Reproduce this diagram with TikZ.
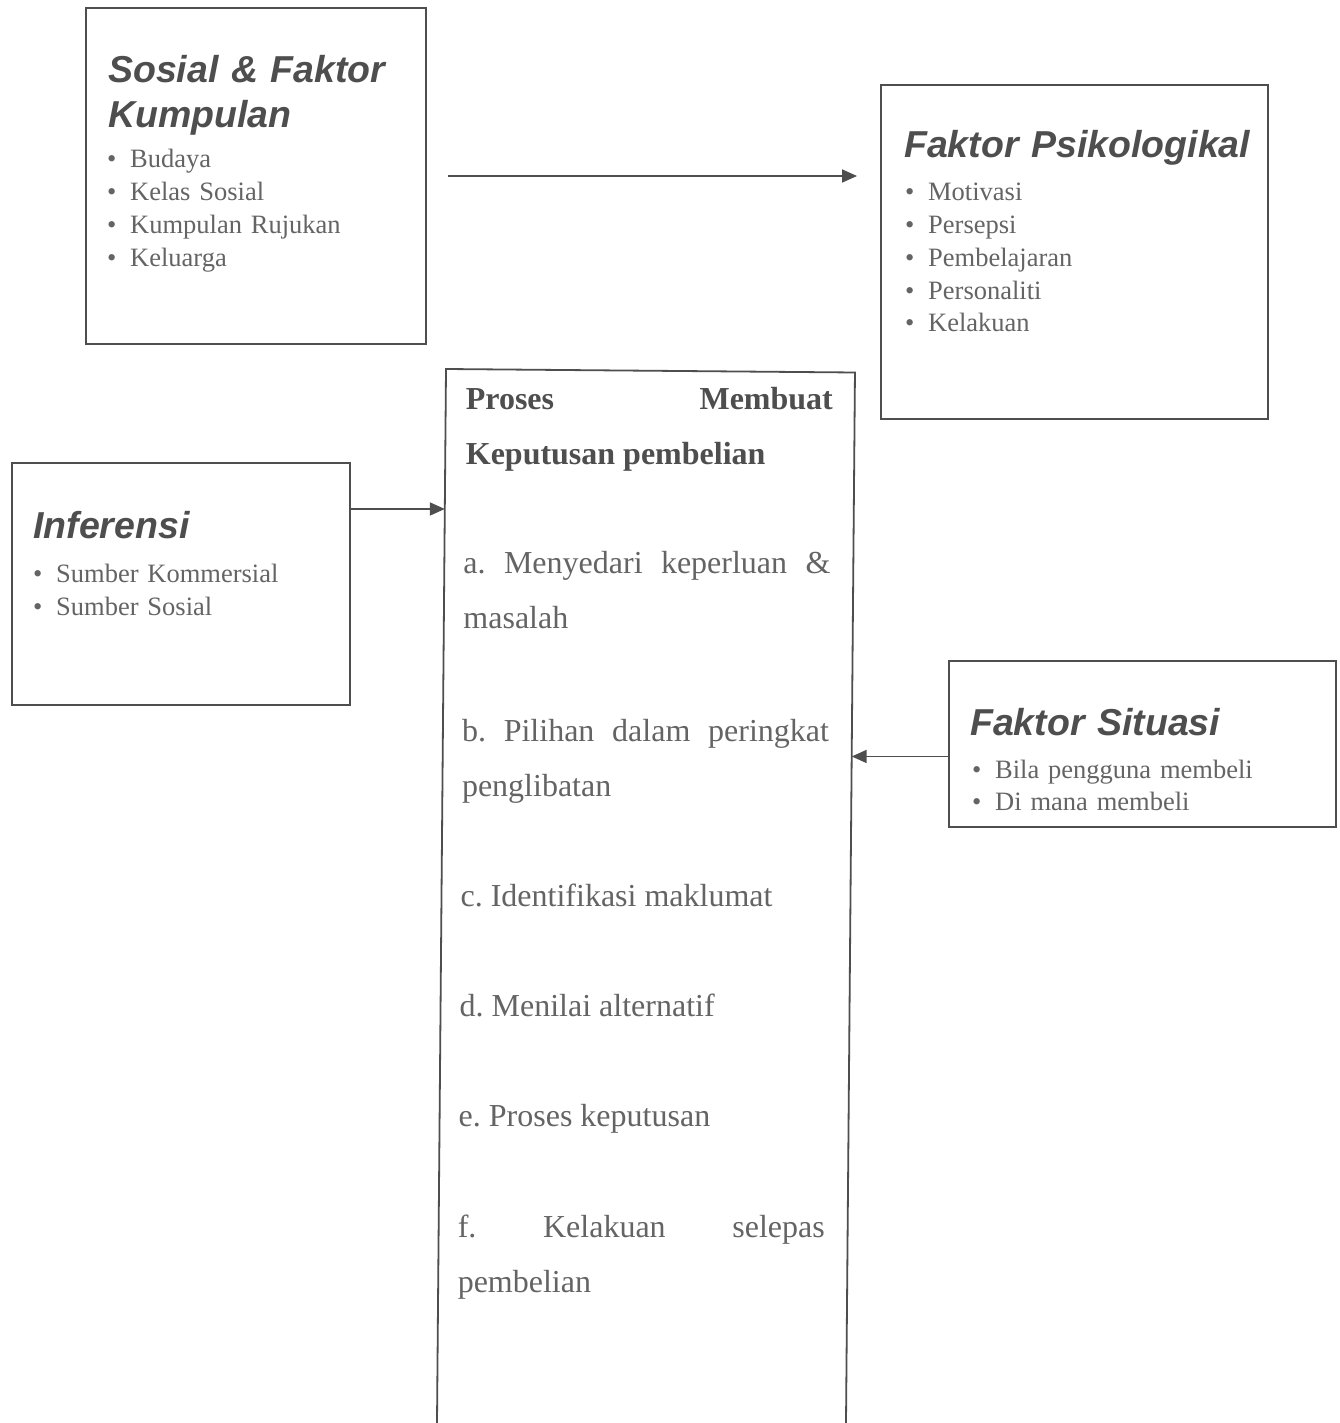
\documentclass[tikz,border=0pt]{standalone}
\usepackage{fontspec}
\setmainfont{Liberation Serif}
\setsansfont{Liberation Sans}
\usetikzlibrary{arrows.meta}
\definecolor{inkgray}{RGB}{78,78,78}
\definecolor{textgray}{RGB}{100,100,100}
\newcommand{\butir}{\makebox[23pt][l]{\textbullet}}
\tikzset{
  box/.style = {draw = inkgray, line width = 1.8pt, anchor = north west, inner sep = 0pt},
  head/.style = {anchor = base west, inner sep = 0pt, text width = 420pt, align = left,
    font = \sffamily\bfseries\itshape\fontsize{37.5}{45}\selectfont, text = inkgray},
  items/.style = {anchor = base west, inner sep = 0pt, text width = 330pt, align = left,
    font = \fontsize{26.5}{#1}\selectfont, text = textgray},
  steps/.style = {anchor = base west, inner sep = 0pt, text width = 367pt, align = justify,
    font = {\fontsize{32}{55.1}\selectfont\tolerance=10000\hyphenpenalty=10000\frenchspacing},
    text = textgray},
  link/.style = {draw = inkgray, line width = 1.8pt, -{Triangle[length = 15pt, width = 13pt]}}
}
\begin{document}
\begin{tikzpicture}[x = 1pt, y = -1pt]
\useasboundingbox[fill = white] (0, 0) rectangle (1340, 1423);
\node[box, minimum width = 340pt, minimum height = 336pt] (sosial) at (85, 7) {};
\node[box, minimum width = 387pt, minimum height = 334pt] (psiko) at (880, 84) {};
\node[box, minimum width = 338pt, minimum height = 242pt] (infer) at (11, 462) {};
\node[box, minimum width = 387pt, minimum height = 166pt] (situasi) at (948, 660) {};
\begin{scope}[rotate around = {-0.49:(446, 369)}]
\draw[draw = inkgray, line width = 1.8pt] (446, 1440) -- (446, 369) -- (855, 369) -- (855, 1440);
\coordinate (masukA) at (446, 509);
\coordinate (masukB) at (855, 753);
\node[steps, text = inkgray] (proses) at (466, 409) {\textbf{Proses Membuat Keputusan pembelian}\par};
\node[steps] (langkahA) at (465, 573) {a. Menyedari keperluan \& masalah\par};
\node[steps] (langkahB) at (465, 741) {b. Pilihan dalam peringkat penglibatan\par};
\node[steps] (langkahC) at (465, 906) {c. Identifikasi maklumat\par};
\node[steps] (langkahD) at (465, 1016) {d. Menilai alternatif\par};
\node[steps] (langkahE) at (465, 1126) {e. Proses keputusan\par};
\node[steps] (langkahF) at (465, 1237) {f. Kelakuan selepas pembelian\par};
\end{scope}
\node[head] (sosialT) at (108, 83) {Sosial \& Faktor\\Kumpulan};
\node[items = 33] (sosialL) at (107, 168) {\butir Budaya\\ \butir Kelas Sosial\\ \butir Kumpulan Rujukan\\ \butir Keluarga};
\node[head] (psikoT) at (904, 158) {Faktor Psikologikal};
\node[items = 32.7] (psikoL) at (905, 201) {\butir Motivasi\\ \butir Persepsi\\ \butir Pembelajaran\\ \butir Personaliti\\ \butir Kelakuan};
\node[head] (inferT) at (33, 538) {Inferensi};
\node[items = 33] (inferL) at (33, 582) {\butir Sumber Kommersial\\ \butir Sumber Sosial};
\node[head] (situasiT) at (970, 735) {Faktor Situasi};
\node[items = 32] (situasiL) at (972, 778) {\butir Bila pengguna membeli\\ \butir Di mana membeli};
\coordinate (kiri) at (448, 176);
\coordinate (kanan) at (857, 176);
\draw[link] (kiri) -- (kanan);
\draw[link] (masukA -| infer.east) -- (masukA);
\draw[link] (masukB -| situasi.west) -- (masukB);
\end{tikzpicture}
\end{document}
